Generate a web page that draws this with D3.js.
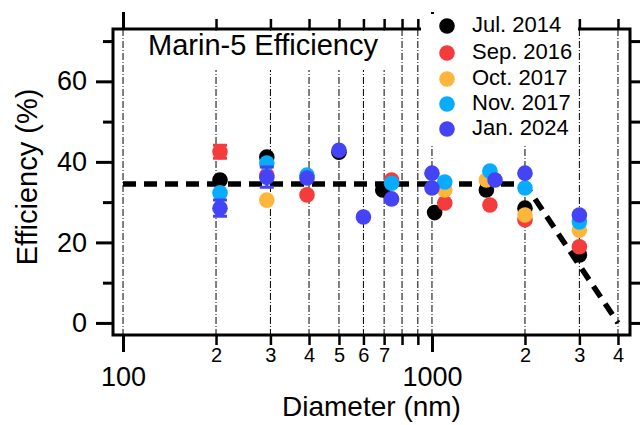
<!DOCTYPE html>
<html>
<head>
<meta charset="utf-8">
<script src="https://cdn.jsdelivr.net/npm/d3@7"></script>
<style>
  body { margin: 0; background: #fff; }
  svg { display: block; font-family: "Liberation Sans", Arial, sans-serif; }
</style>
</head>
<body>
<svg id="chart"></svg>
<script>
// series labels
const seriesNames = ["Jul. 2014", "Sep. 2016", "Oct. 2017", "Nov. 2017", "Jan. 2024"];
const seriesColors = ["#000000", "#f43c3c", "#fcb63c", "#08acff", "#4444f6"];

// diameter (nm), efficiency (%), error (%)
const jul2014Diam = [206, 292, 500, 693, 1020, 1500, 2000, 3000];
const jul2014Eff  = [35.5, 41.2, 42.4, 33, 27.4, 33, 28.5, 16.9];
const jul2014Err  = [0, 0, 0, 0, 0, 0, 0, 0];

const sep2016Diam = [206, 292, 394, 740, 1100, 1540, 2000, 3000];
const sep2016Eff  = [42.5, 36.7, 31.8, 35.5, 29.8, 29.3, 25.6, 18.9];
const sep2016Err  = [1.6, 0, 0, 0, 0, 0, 0, 0];

const oct2017Diam = [292, 1100, 1500, 2000, 3000];
const oct2017Eff  = [30.5, 33, 35.5, 26.8, 23];
const oct2017Err  = [0, 0, 0, 0, 0];

const nov2017Diam = [206, 292, 394, 740, 1100, 1540, 2000, 3000];
const nov2017Eff  = [32.3, 39.7, 36.7, 34.7, 35, 37.7, 33.5, 25.1];
const nov2017Err  = [0, 0, 0, 0, 0, 0, 0, 0];

const jan2024Diam = [206, 292, 394, 500, 600, 740, 1000, 1000, 1600, 2000, 3000];
const jan2024Eff  = [28.5, 36.2, 36, 42.9, 26.3, 30.8, 37.2, 33.5, 35.5, 37.2, 26.8];
const jan2024Err  = [2, 2.5, 0, 0, 0, 0, 0, 0, 0, 0, 0];

// fitted curve
const fitDiam = [100, 2000, 4000];
const fitEff  = [34.5, 34.5, 0];

// axis ticks
const xTicks = [100, 200, 300, 400, 500, 600, 700, 800, 900, 1000, 2000, 3000, 4000];
const xMajor = [100, 1000];
const xMinorLabels = { 200: "2", 300: "3", 400: "4", 500: "5", 600: "6", 700: "7", 2000: "2", 3000: "3", 4000: "4" };
const yTicks = [0, 10, 20, 30, 40, 50, 60, 70];
const yLabels = [0, 20, 40, 60];

const width = 640;
const height = 425;
const plotLeft = 113, plotRight = 630, plotTop = 29, plotBottom = 335;

const svg = d3.select("#chart").attr("width", width).attr("height", height);

const xScale = d3.scaleLog().domain([92.8, 4375]).range([plotLeft, plotRight]);
const yScale = d3.scaleLinear().domain([-3, 73]).range([plotBottom, plotTop]);

// vertical dash-dot grid
svg.append("g")
    .selectAll("line")
    .data(xTicks)
    .enter()
    .append("line")
    .attr("x1", d => xScale(d))
    .attr("x2", d => xScale(d))
    .attr("y1", plotTop)
    .attr("y2", plotBottom)
    .attr("stroke", "#000")
    .attr("stroke-width", 1)
    .attr("stroke-dasharray", "7,2,1,2");

// title box
svg.append("rect")
    .attr("x", 135).attr("y", plotTop + 2)
    .attr("width", 261).attr("height", 39)
    .attr("fill", "#fff");
svg.append("text")
    .attr("x", 148).attr("y", 55)
    .attr("font-size", 29)
    .text("Marin-5 Efficiency");

// axes
const isMajorX = d => xMajor.includes(d);
const isMajorY = d => yLabels.includes(d);

const xAxisB = svg.append("g")
    .attr("transform", "translate(0," + plotBottom + ")")
    .call(d3.axisBottom(xScale).tickValues(xTicks).tickFormat(d => isMajorX(d) ? d : (xMinorLabels[d] || "")).tickSizeOuter(0));
xAxisB.selectAll(".tick line")
    .attr("y2", d => isMajorX(d) ? 17 : 10)
    .attr("stroke-width", d => isMajorX(d) ? 3 : 2.5);
xAxisB.selectAll(".tick text")
    .attr("dy", null)
    .attr("y", d => isMajorX(d) ? 51 : 27)
    .attr("font-size", d => isMajorX(d) ? 27 : 20)
    .attr("fill", "#000");

const xAxisT = svg.append("g")
    .attr("transform", "translate(0," + plotTop + ")")
    .call(d3.axisTop(xScale).tickValues(xTicks).tickFormat("").tickSizeOuter(0));
xAxisT.selectAll(".tick line")
    .attr("y2", d => isMajorX(d) ? -17 : -10)
    .attr("stroke-width", d => isMajorX(d) ? 3 : 2.5);

const yAxisL = svg.append("g")
    .attr("transform", "translate(" + plotLeft + ",0)")
    .call(d3.axisLeft(yScale).tickValues(yTicks).tickFormat(d => isMajorY(d) ? d : "").tickSizeOuter(0));
yAxisL.selectAll(".tick line")
    .attr("x2", d => isMajorY(d) ? -17 : -10)
    .attr("stroke-width", 3);
yAxisL.selectAll(".tick text")
    .attr("x", -26)
    .attr("font-size", 27)
    .attr("fill", "#000");

const yAxisR = svg.append("g")
    .attr("transform", "translate(" + plotRight + ",0)")
    .call(d3.axisRight(yScale).tickValues(yTicks).tickFormat("").tickSizeOuter(0));
yAxisR.selectAll(".tick line")
    .attr("x2", 10)
    .attr("stroke-width", 3);

svg.selectAll(".domain").remove();

// frame
svg.append("rect")
    .attr("x", plotLeft).attr("y", plotTop)
    .attr("width", plotRight - plotLeft).attr("height", plotBottom - plotTop)
    .attr("fill", "none")
    .attr("stroke", "#000")
    .attr("stroke-width", 3);

// axis titles
svg.append("text")
    .attr("x", (plotLeft + plotRight) / 2).attr("y", 416)
    .attr("text-anchor", "middle")
    .attr("font-size", 28)
    .text("Diameter (nm)");
svg.append("text")
    .attr("transform", "translate(37,177) rotate(-90)")
    .attr("text-anchor", "middle")
    .attr("font-size", 29)
    .text("Efficiency (%)");

// fit line
const fitData = fitDiam.map((d, i) => ({ d: d, e: fitEff[i] }));
svg.append("path")
    .datum(fitData)
    .attr("d", d3.line().x(p => xScale(p.d)).y(p => yScale(p.e)))
    .attr("fill", "none")
    .attr("stroke", "#000")
    .attr("stroke-width", 5.5)
    .attr("stroke-dasharray", "13,8");

// data
const allDiam = [jul2014Diam, sep2016Diam, oct2017Diam, nov2017Diam, jan2024Diam];
const allEff = [jul2014Eff, sep2016Eff, oct2017Eff, nov2017Eff, jan2024Eff];
const allErr = [jul2014Err, sep2016Err, oct2017Err, nov2017Err, jan2024Err];
const color = d3.scaleOrdinal(seriesNames, seriesColors);

seriesNames.forEach((name, i) => {
    const pts = allDiam[i].map((d, j) => ({ d: d, e: allEff[i][j], err: allErr[i][j] }));
    const g = svg.append("g");
    const bars = pts.filter(p => p.err > 0);
    g.selectAll(".err")
        .data(bars)
        .enter()
        .append("path")
        .attr("d", p => {
            const x = xScale(p.d), y1 = yScale(p.e + p.err), y2 = yScale(p.e - p.err);
            return "M" + x + "," + y1 + "V" + y2 + "M" + (x - 7) + "," + y1 + "H" + (x + 7) + "M" + (x - 7) + "," + y2 + "H" + (x + 7);
        })
        .attr("stroke", color(name))
        .attr("stroke-width", 3)
        .attr("fill", "none");
    g.selectAll("circle")
        .data(pts)
        .enter()
        .append("circle")
        .attr("cx", p => xScale(p.d))
        .attr("cy", p => yScale(p.e))
        .attr("r", 7.8)
        .attr("fill", color(name));
});

// legend
const legendY = [26, 53, 79, 104, 129];
svg.append("rect")
    .attr("x", 421).attr("y", 14)
    .attr("width", 157).attr("height", 130)
    .attr("fill", "#fff");
const legend = svg.append("g")
    .selectAll("g")
    .data(seriesNames)
    .enter()
    .append("g")
    .attr("transform", (d, i) => "translate(447," + legendY[i] + ")");
legend.append("circle")
    .attr("r", 7.8)
    .attr("fill", d => color(d));
legend.append("text")
    .attr("x", 25)
    .attr("y", -2)
    .attr("dominant-baseline", "central")
    .attr("font-size", 22)
    .text(d => d);
</script>
</body>
</html>
